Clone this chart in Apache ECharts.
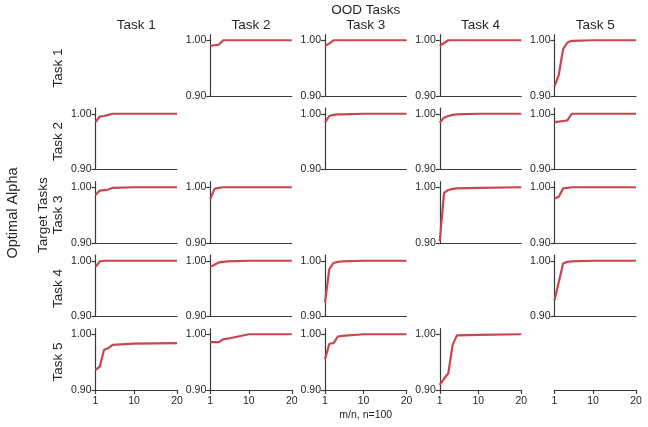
<!DOCTYPE html>
<html>
<head>
<meta charset="utf-8">
<script src="https://cdn.jsdelivr.net/npm/echarts@6/dist/echarts.min.js"></script>
<style>
  html, body { margin: 0; padding: 0; background: #fff; }
  #chart { width: 648px; height: 427px; }
</style>
</head>
<body>
<div id="chart"></div>
<script>
// m/n ratios (n = 100)
var mRatio = [1, 2, 3, 4, 5, 10, 20];
var taskNames = ['Task 1', 'Task 2', 'Task 3', 'Task 4', 'Task 5'];
var xTicks = [1, 10, 20];
var yTicks = [0.90, 1.00];

// optimal alpha, one array per target task, indexed by OOD task (null = diagonal)
var alphaTarget1 = [
  null,
  [0.990, 0.991, 0.992, 1.000, 1.000, 1.000, 1.000],
  [0.990, 0.994, 1.000, 1.000, 1.000, 1.000, 1.000],
  [0.990, 0.995, 1.000, 1.000, 1.000, 1.000, 1.000],
  [0.917, 0.938, 0.984, 0.996, 0.999, 1.000, 1.000]
];
var alphaTarget2 = [
  [0.985, 0.995, 0.996, 0.998, 1.000, 1.000, 1.000],
  null,
  [0.984, 0.996, 0.998, 0.999, 0.999, 1.000, 1.000],
  [0.984, 0.993, 0.996, 0.998, 0.999, 1.000, 1.000],
  [0.985, 0.986, 0.987, 0.988, 1.000, 1.000, 1.000]
];
var alphaTarget3 = [
  [0.986, 0.994, 0.995, 0.996, 0.999, 1.000, 1.000],
  [0.979, 0.997, 0.999, 1.000, 1.000, 1.000, 1.000],
  null,
  [0.903, 0.990, 0.995, 0.997, 0.998, 0.999, 1.000],
  [0.980, 0.983, 0.998, 0.999, 1.000, 1.000, 1.000]
];
var alphaTarget4 = [
  [0.989, 0.999, 1.000, 1.000, 1.000, 1.000, 1.000],
  [0.989, 0.993, 0.997, 0.998, 0.999, 1.000, 1.000],
  [0.925, 0.985, 0.996, 0.998, 0.999, 1.000, 1.000],
  null,
  [0.929, 0.962, 0.995, 0.998, 0.999, 1.000, 1.000]
];
var alphaTarget5 = [
  [0.936, 0.942, 0.972, 0.975, 0.981, 0.983, 0.984],
  [0.986, 0.986, 0.986, 0.991, 0.992, 1.000, 1.000],
  [0.955, 0.983, 0.984, 0.996, 0.997, 1.000, 1.000],
  [0.909, 0.920, 0.930, 0.981, 0.998, 0.999, 1.000],
  null
];
var alphaByTarget = [alphaTarget1, alphaTarget2, alphaTarget3, alphaTarget4, alphaTarget5];

var axisColor = '#3a3a3a';
var textColor = '#262626';
var lineColor = '#c8464e';
var font = 'Liberation Sans, Arial, sans-serif';

var colLeft = 95.5, colStep = 114.75, plotW = 81.5;
var rowTop = 34.7, rowStep = 73.5, plotH = 61.2;

var grids = [], xAxes = [], yAxes = [], series = [];

for (var r = 0; r < 5; r++) {
  for (var c = 0; c < 5; c++) {
    var data = alphaByTarget[r][c];
    var bottomRow = (r === 4);
    var emptyCorner = (r === 4 && c === 4);
    if (!data && !emptyCorner) continue;
    var idx = grids.length;
    grids.push({
      left: colLeft + c * colStep,
      top: rowTop + r * rowStep,
      width: plotW,
      height: plotH
    });
    xAxes.push({
      gridIndex: idx,
      type: 'value',
      min: 1,
      max: 20,
      splitLine: { show: false },
      axisLine: { show: true, onZero: false, lineStyle: { color: axisColor, width: 1.2 } },
      axisTick: {
        show: bottomRow, length: 4, customValues: xTicks,
        lineStyle: { color: axisColor, width: 1.2 }
      },
      axisLabel: {
        show: bottomRow, customValues: xTicks, margin: 6,
        color: textColor, fontSize: 10.5, fontFamily: font
      }
    });
    yAxes.push({
      gridIndex: idx,
      type: 'value',
      show: !emptyCorner,
      min: 0.9,
      max: 1.01,
      splitLine: { show: false },
      axisLine: { show: true, onZero: false, lineStyle: { color: axisColor, width: 1.2 } },
      axisTick: { show: true, length: 4, customValues: yTicks, lineStyle: { color: axisColor, width: 1.2 } },
      axisLabel: {
        customValues: yTicks, margin: 4,
        color: textColor, fontSize: 10.5, fontFamily: font,
        formatter: function (v) { return v.toFixed(2); }
      }
    });
    series.push({
      type: 'line',
      xAxisIndex: idx,
      yAxisIndex: idx,
      data: data ? mRatio.map(function (m, i) { return [m, data[i]]; }) : [],
      showSymbol: false,
      silent: true,
      lineStyle: { color: lineColor, width: 2.2 },
      itemStyle: { color: lineColor }
    });
  }
}

var graphics = [];
function addText(x, y, text, size, rotate) {
  graphics.push({
    type: 'text',
    x: x, y: y,
    rotation: rotate ? Math.PI / 2 : 0,
    style: {
      text: text, fill: textColor, font: size + 'px ' + font,
      textAlign: 'center', textVerticalAlign: 'middle'
    }
  });
}
for (var k = 0; k < 5; k++) {
  addText(colLeft + k * colStep + plotW / 2, 25, taskNames[k], 13.5, false);
  addText(58, rowTop + k * rowStep + 5.6 + 27.8, taskNames[k], 13.5, true);
}
addText(colLeft + 2 * colStep + plotW / 2, 10, 'OOD Tasks', 13.5, false);
addText(43, rowTop + 2 * rowStep + 5.6 + 27.8, 'Target Tasks', 13.5, true);
addText(13, 213, 'Optimal Alpha', 14.5, true);
addText(colLeft + 2 * colStep + plotW / 2, 415, 'm/n, n=100', 10.5, false);

var chart = echarts.init(document.getElementById('chart'));
chart.setOption({
  backgroundColor: '#fff',
  animation: false,
  grid: grids,
  xAxis: xAxes,
  yAxis: yAxes,
  series: series,
  graphic: graphics
});
</script>
</body>
</html>
